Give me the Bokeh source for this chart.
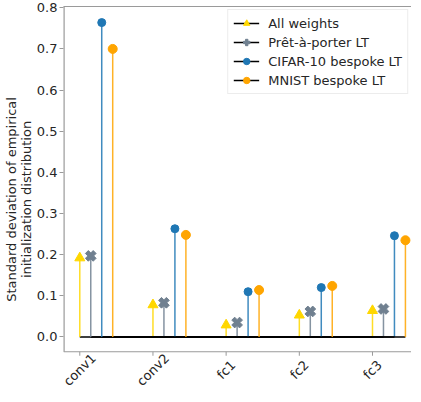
import math
from bokeh.plotting import figure
from bokeh.models import (Range1d, FixedTicker, LinearAxis, Legend, LegendItem,
                          PrintfTickFormatter)
from bokeh.core.properties import value
from bokeh.embed import file_html
from bokeh.resources import INLINE

layers = ["conv1", "conv2", "fc1", "fc2", "fc3"]
series_names = ["All weights", "Prêt-à-porter LT", "CIFAR-10 bespoke LT", "MNIST bespoke LT"]
all_weights = [0.192, 0.078, 0.029, 0.053, 0.064]
pret_a_porter = [0.197, 0.083, 0.035, 0.062, 0.068]
cifar_bespoke = [0.764, 0.263, 0.110, 0.120, 0.246]
mnist_bespoke = [0.700, 0.248, 0.114, 0.124, 0.235]
y_ticks = [0.0, 0.1, 0.2, 0.3, 0.4, 0.5, 0.6, 0.7, 0.8]

series_values = [all_weights, pret_a_porter, cifar_bespoke, mnist_bespoke]
offsets = [0.0, 0.15, 0.30, 0.45]
colors = ["#FFD700", "#708090", "#1f77b4", "#FFA500"]
markers = ["triangle", "plus", "circle", "circle"]
sizes = [10, 11, 8, 9]
angles = [0, math.pi / 4, 0, 0]

FONT = "DejaVu Sans"
TXT = "#262626"
SPINE = "#9a9a9a"

X0, X1 = -0.2225, 4.533
Y_SPINE, Y1 = -0.036, 0.8031
Y_BOTTOM = -0.135
p = figure(width=411, height=392, output_backend="svg", toolbar_location=None,
           x_range=Range1d(X0, X1), y_range=Range1d(Y_BOTTOM, Y1),
           min_border=0, min_border_left=56, min_border_right=0, min_border_top=6,
           min_border_bottom=0)
p.outline_line_color = None
p.xgrid.visible = False
p.ygrid.visible = False
p.xaxis.visible = False
p.background_fill_color = "white"
p.border_fill_color = "white"

# spines (left & bottom) and x ticks
p.segment(x0=[X0, X0], y0=[Y_SPINE, Y_SPINE], x1=[X0, X1], y1=[Y1, Y_SPINE],
          line_color=SPINE, line_width=[2.4, 1.2])
cat_x = list(range(len(layers)))
p.ray(x=cat_x, y=[Y_SPINE] * len(layers), length=4, length_units="screen",
      angle=-math.pi / 2, line_color=SPINE, line_width=1)
p.text(x=cat_x, y=[Y_SPINE] * len(layers), text=layers, angle=math.pi / 4,
       y_offset=18, text_align="center", text_baseline="middle",
       text_font=value(FONT), text_font_size="13px", text_color=TXT)

legend_items = []
for vals, off, col, mk, sz, ang, name in zip(series_values, offsets, colors, markers, sizes, angles, series_names):
    xs = [i + off for i in range(len(layers))]
    base = p.line(xs, [0.0] * len(xs), line_color="black", line_width=1.6)
    p.segment(x0=xs, y0=[0.0] * len(xs), x1=xs, y1=vals, line_color=col, line_width=1.5, line_alpha=0.85)
    sc = p.scatter(xs, vals, marker=mk, size=sz, angle=ang, fill_color=col, line_color=col, line_width=1)
    legend_items.append(LegendItem(label=name, renderers=[base, sc]))

legend = Legend(items=legend_items, location="top_right")
legend.label_text_font = FONT
legend.label_text_font_size = "13px"
legend.label_text_color = TXT
legend.glyph_width = 26
legend.glyph_height = 16
legend.label_height = 16
legend.spacing = 3
legend.padding = 5
legend.margin = 3
legend.label_standoff = 9
legend.border_line_color = "#d9d9d9"
legend.border_line_width = 1
legend.background_fill_alpha = 0.9
p.add_layout(legend)

ya = p.yaxis[0]
ya.ticker = FixedTicker(ticks=y_ticks)
ya.formatter = PrintfTickFormatter(format="%.1f")
ya.axis_label = "Standard deviation of empirical\ninitialization distribution"
ya.axis_label_text_font = FONT
ya.axis_label_text_font_size = "13px"
ya.axis_label_text_font_style = "normal"
ya.axis_label_text_color = TXT
ya.axis_label_text_line_height = 1.0
ya.axis_label_standoff = 0
ya.axis_line_color = None
ya.major_tick_line_color = SPINE
ya.major_tick_out = 4
ya.major_tick_in = 0
ya.minor_tick_line_color = None
ya.major_label_text_font = FONT
ya.major_label_text_font_size = "13px"
ya.major_label_text_color = TXT
ya.major_label_standoff = 2

top = LinearAxis(ticker=FixedTicker(ticks=[]), major_label_text_font_size="0px",
                 axis_line_color=SPINE, axis_line_width=1.2,
                 major_tick_line_color=None, minor_tick_line_color=None)
p.add_layout(top, "above")

open("out.html", "w").write(file_html(p, INLINE))
